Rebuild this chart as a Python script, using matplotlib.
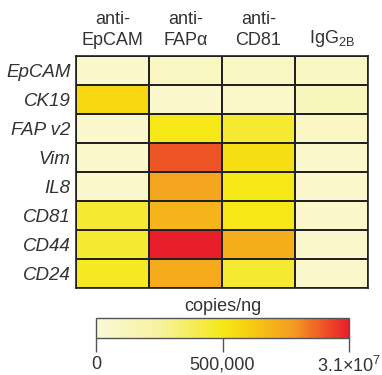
import numpy as np
import matplotlib
matplotlib.use("Agg")
import matplotlib.pyplot as plt
from matplotlib.colors import LinearSegmentedColormap, TwoSlopeNorm

plt.rcParams['font.family'] = ['Liberation Sans', 'DejaVu Sans']

columns = ["anti-\nEpCAM", "anti-\nFAPα", "anti-\nCD81", "IgG$_\\mathregular{2B}$"]
genes = ["EpCAM", "CK19", "FAP v2", "Vim", "IL8", "CD81", "CD44", "CD24"]

# copies/ng (estimated from colours)
values = np.array([
    [50000,    100000,   80000,    80000],
    [5.0e6,    50000,    70000,    120000],
    [50000,    500000,   450000,   80000],
    [50000,    2.5e7,    3.0e6,    50000],
    [50000,    1.5e7,    500000,   50000],
    [450000,   1.2e7,    500000,   50000],
    [450000,   3.1e7,    1.35e7,   50000],
    [480000,   1.4e7,    450000,   50000],
])

cbar_ticks = [0, 500000, 3.1e7]
cbar_labels = ["0", "500,000", "3.1×10$^\\mathregular{7}$"]

cmap = LinearSegmentedColormap.from_list(
    "yr", [(0.0, "#FBF9D6"), (0.25, "#F7F2A0"), (0.5, "#F5E816"),
           (0.6, "#F8CF10"), (0.78, "#F39A22"), (1.0, "#E81E2A")])
norm = TwoSlopeNorm(vmin=0, vcenter=500000, vmax=3.1e7)

fig = plt.figure(figsize=(3.82, 3.75), dpi=100)
W, H = 382, 375
ax = fig.add_axes([76 / W, 1 - 288 / H, (368 - 76) / W, (288 - 56) / H])
mesh = ax.pcolormesh(values, cmap=cmap, norm=norm, edgecolors="#222222", linewidth=1.2)
ax.set_xlim(0, 4)
ax.set_ylim(8, 0)
ax.set_xticks(np.arange(4) + 0.5)
ax.set_xticklabels(columns, fontsize=13, color="#333333", linespacing=1.35)
ax.xaxis.tick_top()
ax.set_yticks(np.arange(8) + 0.5)
ax.set_yticklabels(genes, fontsize=13.5, color="#333333", style="italic")
ax.tick_params(axis="y", length=0, pad=4)
ax.tick_params(axis="x", length=0, pad=5)
for s in ax.spines.values():
    s.set_linewidth(1.2)
    s.set_color("#222222")

cax = fig.add_axes([96 / W, 1 - 338 / H, (349 - 96) / W, 20 / H])
cb = fig.colorbar(mesh, cax=cax, orientation="horizontal")
cb.set_ticks(cbar_ticks)
cb.set_ticklabels(cbar_labels)
cb.ax.tick_params(length=10, width=1, color="#555555", labelsize=13, labelcolor="#333333", pad=3)
cb.outline.set_linewidth(1)
cb.outline.set_edgecolor("#555555")
cb.ax.set_title("copies/ng", fontsize=13, color="#333333", pad=5)

fig.savefig("out.png", dpi=100)
